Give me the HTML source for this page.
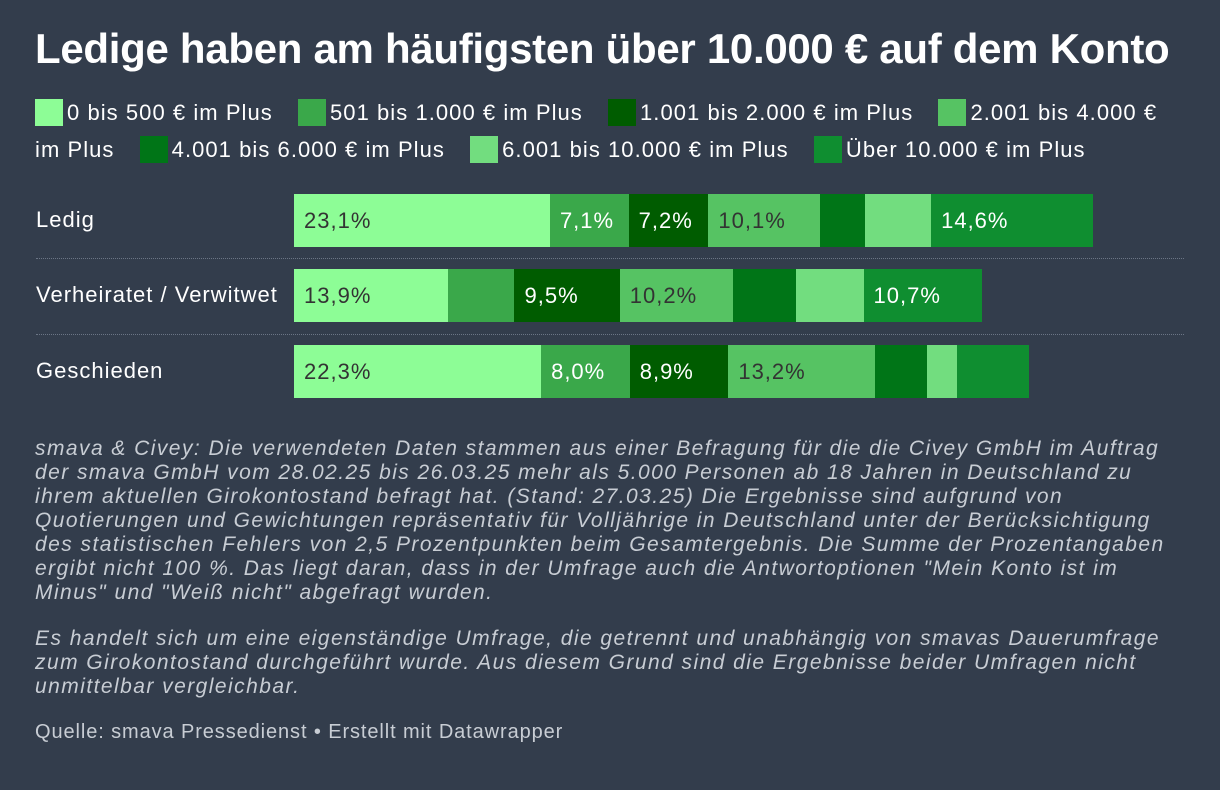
<!DOCTYPE html>
<html><head><meta charset="utf-8"><style>
body{margin:0;width:1220px;height:790px;background:#333d4c;font-family:"Liberation Sans",sans-serif;color:#fff;position:relative;overflow:hidden}
h1{position:absolute;left:35px;top:25px;margin:0;font-size:42px;font-weight:bold;letter-spacing:-0.3px;white-space:nowrap}
.legend{position:absolute;left:35px;top:94px;width:1140px;font-size:22px;letter-spacing:1.05px;line-height:37px}
.li{margin-right:18px}
.sw{display:inline-block;width:28px;height:27px;vertical-align:-6px;margin-right:4px}
.row-label{position:absolute;left:36px;font-size:22px;letter-spacing:1px}
.sep{position:absolute;left:36px;width:1148px;border-top:1px dotted #6b7585}
.seg{position:absolute;height:53px;font-size:22px;letter-spacing:1px;line-height:53px;box-sizing:border-box;padding-left:10px;white-space:nowrap;overflow:hidden}
.notes{position:absolute;left:35px;top:437px;width:1150px;font-size:21px;letter-spacing:1.45px;font-style:italic;color:#c8cdd4;line-height:24px}
.notes p{margin:0 0 22px 0}
.src{position:absolute;left:35px;top:721px;font-size:20px;letter-spacing:0.9px;color:#c8cdd4}
</style></head><body>
<h1>Ledige haben am häufigsten über 10.000 € auf dem Konto</h1>
<div class="legend" id="legend"></div>
<div id="chart"></div>
<div class="notes"><p>smava &amp; Civey: Die verwendeten Daten stammen aus einer Befragung für die die Civey GmbH im Auftrag der smava GmbH vom 28.02.25 bis 26.03.25 mehr als 5.000 Personen ab 18 Jahren in Deutschland zu ihrem aktuellen Girokontostand befragt hat. (Stand: 27.03.25) Die Ergebnisse sind aufgrund von Quotierungen und Gewichtungen repräsentativ für Volljährige in Deutschland unter der Berücksichtigung des statistischen Fehlers von 2,5 Prozentpunkten beim Gesamtergebnis. Die Summe der Prozentangaben ergibt nicht 100 %. Das liegt daran, dass in der Umfrage auch die Antwortoptionen "Mein Konto ist im Minus" und "Weiß nicht" abgefragt wurden.</p><p>Es handelt sich um eine eigenständige Umfrage, die getrennt und unabhängig von smavas Dauerumfrage zum Girokontostand durchgeführt wurde. Aus diesem Grund sind die Ergebnisse beider Umfragen nicht unmittelbar vergleichbar.</p></div>
<div class="src">Quelle: smava Pressedienst • Erstellt mit Datawrapper</div>
<script>
const categories=["Ledig","Verheiratet / Verwitwet","Geschieden"];
const seriesNames=["0 bis 500 € im Plus","501 bis 1.000 € im Plus","1.001 bis 2.000 € im Plus","2.001 bis 4.000 € im Plus","4.001 bis 6.000 € im Plus","6.001 bis 10.000 € im Plus","Über 10.000 € im Plus"];
const ledig=[23.1,7.1,7.2,10.1,4.0,6.0,14.6];
const verheiratet=[13.9,6.0,9.5,10.2,5.7,6.1,10.7];
const geschieden=[22.3,8.0,8.9,13.2,4.7,2.7,6.5];
const values=[ledig,verheiratet,geschieden];
const colors=["#8dfd96","#3aa84a","#005c00","#56c363","#007517","#72dd7f","#0f8e30"];
const textColors=["#333","#fff","#fff","#333","#fff","#333","#fff"];
const x0=294,pxPer=11.08,rowTop=[194,269,345];
function xs(v){return v*pxPer;}
const lg=document.getElementById('legend');
seriesNames.forEach((n,i)=>{
 const s=document.createElement('span');s.className='li';
 
 
 s.innerHTML='<span class="sw" style="background:'+colors[i]+'"></span>'+n;
 lg.appendChild(s);
 lg.appendChild(document.createTextNode(' '));
});
const ch=document.getElementById('chart');
categories.forEach((c,r)=>{
 const l=document.createElement('div');l.className='row-label';l.textContent=c;
 l.style.top=(rowTop[r]+13)+'px';
 
 
 ch.appendChild(l);
 if(r>0){const s=document.createElement('div');s.className='sep';s.style.top=(rowTop[r]-11)+'px';
 
 
 ch.appendChild(s);}
 let x=x0;
 values[r].forEach((v,i)=>{
  const w=xs(v);
  const d=document.createElement('div');d.className='seg';
  d.style.left=x+'px';d.style.top=rowTop[r]+'px';d.style.width=w+'px';
  d.style.background=colors[i];d.style.color=textColors[i];
  if(w>75)d.textContent=v.toFixed(1).replace('.',',')+'%';
  
  
  ch.appendChild(d);x+=w;
 });
});
</script>
</body></html>
